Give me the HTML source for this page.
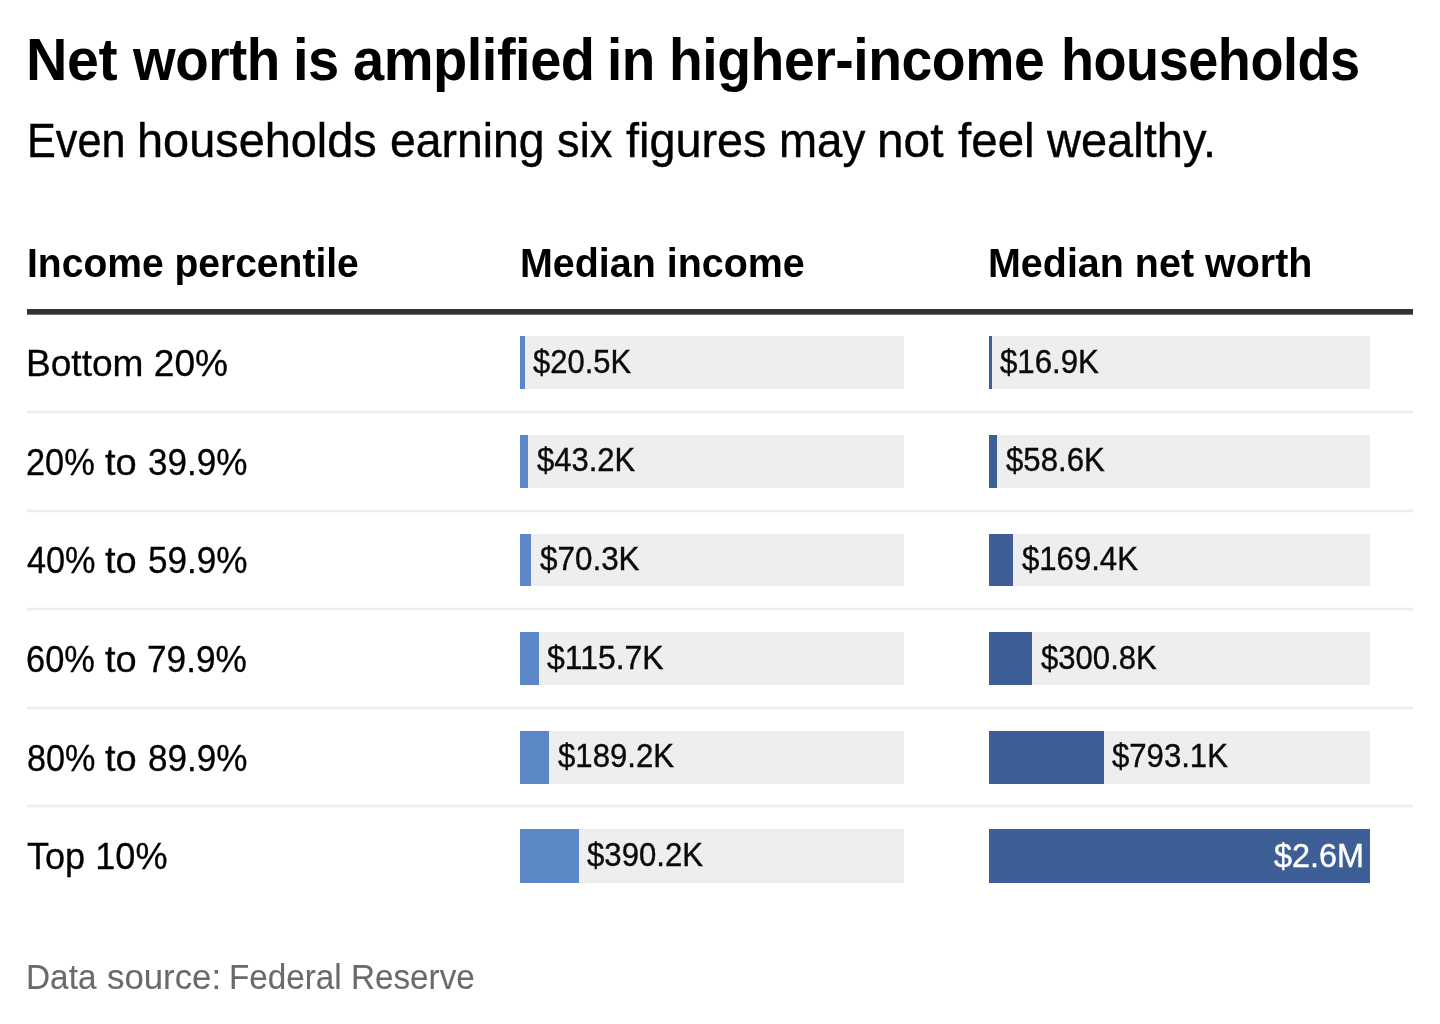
<!DOCTYPE html>
<html lang="en">
<head>
<meta charset="utf-8">
<title>Net worth is amplified in higher-income households</title>
<style>
html,body{margin:0;padding:0;background:#fff;}
body{width:1440px;height:1024px;position:relative;overflow:hidden;font-family:"Liberation Sans",Arial,sans-serif;color:#000;}
.abs{position:absolute;white-space:nowrap;line-height:1;transform-origin:0 0;margin:0;font-weight:400;}
.wrap{margin:0;font-size:16px;font-weight:400;}
.b{font-weight:700;}
.hline{position:absolute;left:27px;width:1386px;top:309px;height:6px;background:linear-gradient(to bottom,#333 0,#333 5px,#747474 5px,#747474 6px);}
.sep{position:absolute;left:27px;width:1386px;height:4px;background:linear-gradient(to bottom,#fafafa 0,#fafafa 1px,#ededed 1px,#ededed 3px,#fafafa 3px,#fafafa 4px);}
.track{position:absolute;background:#eee;}
.bar{position:absolute;}
.c1{background:#5b87c7;}
.c2{background:#3d5f96;}
.val{color:#0a0a0a;-webkit-text-stroke:0.4px #0a0a0a;}
.lbl{-webkit-text-stroke:0.3px #000;}
.sub{-webkit-text-stroke:0.4px #000;}
.val.in{color:#fff;-webkit-text-stroke:0.4px #fff;}
.foot{color:#6a6a6a;-webkit-text-stroke:0.1px #6a6a6a;}
</style>
</head>
<body>
<h1 class="wrap"><span class="abs b" id="t0" style="left:25.96px;top:31.00px;font-size:58.6px;letter-spacing:-0.5px;transform:scaleX(0.9795);">Net</span> <span class="abs b" id="t1" style="left:133.36px;top:31.00px;font-size:58.6px;letter-spacing:-0.5px;transform:scaleX(0.9355);">worth</span> <span class="abs b" id="t2" style="left:292.73px;top:31.00px;font-size:58.6px;letter-spacing:-0.5px;transform:scaleX(0.9576);">is</span> <span class="abs b" id="t3" style="left:353.34px;top:31.00px;font-size:58.6px;letter-spacing:-0.5px;transform:scaleX(0.9558);">amplified</span> <span class="abs b" id="t4" style="left:606.82px;top:31.00px;font-size:58.6px;letter-spacing:-0.5px;transform:scaleX(0.9362);">in</span> <span class="abs b" id="t5" style="left:669.46px;top:31.00px;font-size:58.6px;letter-spacing:-0.5px;transform:scaleX(0.9446);">higher-income</span> <span class="abs b" id="t6" style="left:1061.21px;top:31.00px;font-size:58.6px;letter-spacing:-0.5px;transform:scaleX(0.9224);">households</span></h1>
<p class="wrap"><span class="abs sub" id="s0" style="left:27.02px;top:116.54px;font-size:47.8px;transform:scaleX(0.9032);">Even</span> <span class="abs sub" id="s1" style="left:136.90px;top:116.54px;font-size:47.8px;transform:scaleX(0.9808);">households</span> <span class="abs sub" id="s2" style="left:389.97px;top:116.54px;font-size:47.8px;transform:scaleX(0.9699);">earning</span> <span class="abs sub" id="s3" style="left:557.03px;top:116.54px;font-size:47.8px;transform:scaleX(0.9475);">six</span> <span class="abs sub" id="s4" style="left:626.19px;top:116.54px;font-size:47.8px;transform:scaleX(0.9781);">figures</span> <span class="abs sub" id="s5" style="left:778.81px;top:116.54px;font-size:47.8px;transform:scaleX(0.9564);">may</span> <span class="abs sub" id="s6" style="left:876.72px;top:116.54px;font-size:47.8px;transform:scaleX(0.9993);">not</span> <span class="abs sub" id="s7" style="left:957.94px;top:116.54px;font-size:47.8px;transform:scaleX(0.9944);">feel</span> <span class="abs sub" id="s8" style="left:1046.88px;top:116.54px;font-size:47.8px;transform:scaleX(0.9836);">wealthy.</span></p>

<div class="abs b" id="h1" style="left:26.53px;top:243.89px;font-size:40.3px;transform:scaleX(0.9683);">Income percentile</div>
<div class="abs b" id="h2" style="left:520.35px;top:243.89px;font-size:40.3px;transform:scaleX(0.9782);">Median income</div>
<div class="abs b" id="h3" style="left:988.00px;top:243.89px;font-size:40.3px;transform:scaleX(0.9790);">Median net worth</div>
<div class="hline"></div>

<div class="abs lbl" id="l0" style="left:25.86px;top:344.51px;font-size:37.2px;transform:scaleX(0.9970);">Bottom 20%</div>
<div class="track" style="left:520px;top:336px;width:384px;height:53px"></div><div class="bar c1" style="left:520px;top:336px;width:5px;height:53px"></div>
<div class="abs val" id="a0" style="left:533.41px;top:344.53px;font-size:33.4px;transform:scaleX(0.9269);">$20.5K</div>
<div class="track" style="left:989px;top:336px;width:381px;height:53px"></div><div class="bar c2" style="left:989px;top:336px;width:3px;height:53px"></div>
<div class="abs val" id="b0" style="left:1000.17px;top:344.53px;font-size:33.4px;transform:scaleX(0.9343);">$16.9K</div>
<div class="sep" style="top:410px"></div>

<div class="wrap"><span class="abs lbl" id="l1_0" style="left:26.49px;top:444.21px;font-size:37.2px;transform:scaleX(0.9241);">20%</span> <span class="abs lbl" id="l1_1" style="left:105.14px;top:444.21px;font-size:37.2px;transform:scaleX(1.0221);">to</span> <span class="abs lbl" id="l1_2" style="left:147.91px;top:444.21px;font-size:37.2px;transform:scaleX(0.9426);">39.9%</span></div>
<div class="track" style="left:520px;top:435px;width:384px;height:53px"></div><div class="bar c1" style="left:520px;top:435px;width:8px;height:53px"></div>
<div class="abs val" id="a1" style="left:536.94px;top:443.23px;font-size:33.4px;transform:scaleX(0.9280);">$43.2K</div>
<div class="track" style="left:989px;top:435px;width:381px;height:53px"></div><div class="bar c2" style="left:989px;top:435px;width:8px;height:53px"></div>
<div class="abs val" id="b1" style="left:1005.94px;top:443.23px;font-size:33.4px;transform:scaleX(0.9337);">$58.6K</div>
<div class="sep" style="top:509px"></div>

<div class="wrap"><span class="abs lbl" id="l2_0" style="left:26.63px;top:541.91px;font-size:37.2px;transform:scaleX(0.9211);">40%</span> <span class="abs lbl" id="l2_1" style="left:105.14px;top:541.91px;font-size:37.2px;transform:scaleX(1.0221);">to</span> <span class="abs lbl" id="l2_2" style="left:147.76px;top:541.91px;font-size:37.2px;transform:scaleX(0.9441);">59.9%</span></div>
<div class="track" style="left:520px;top:534px;width:384px;height:52px"></div><div class="bar c1" style="left:520px;top:534px;width:11px;height:52px"></div>
<div class="abs val" id="a2" style="left:539.75px;top:541.93px;font-size:33.4px;transform:scaleX(0.9407);">$70.3K</div>
<div class="track" style="left:989px;top:534px;width:381px;height:52px"></div><div class="bar c2" style="left:989px;top:534px;width:24px;height:52px"></div>
<div class="abs val" id="b2" style="left:1022.17px;top:541.93px;font-size:33.4px;transform:scaleX(0.9317);">$169.4K</div>
<div class="sep" style="top:607px"></div>

<div class="wrap"><span class="abs lbl" id="l3_0" style="left:26.43px;top:640.61px;font-size:37.2px;transform:scaleX(0.9250);">60%</span> <span class="abs lbl" id="l3_1" style="left:105.14px;top:640.61px;font-size:37.2px;transform:scaleX(1.0221);">to</span> <span class="abs lbl" id="l3_2" style="left:147.41px;top:640.61px;font-size:37.2px;transform:scaleX(0.9475);">79.9%</span></div>
<div class="track" style="left:520px;top:632px;width:384px;height:53px"></div><div class="bar c1" style="left:520px;top:632px;width:19px;height:53px"></div>
<div class="abs val" id="a3" style="left:546.55px;top:640.63px;font-size:33.4px;transform:scaleX(0.9560);">$115.7K</div>
<div class="track" style="left:989px;top:632px;width:381px;height:53px"></div><div class="bar c2" style="left:989px;top:632px;width:43px;height:53px"></div>
<div class="abs val" id="b3" style="left:1041.17px;top:640.63px;font-size:33.4px;transform:scaleX(0.9309);">$300.8K</div>
<div class="sep" style="top:706px"></div>

<div class="wrap"><span class="abs lbl" id="l4_0" style="left:26.84px;top:740.31px;font-size:37.2px;transform:scaleX(0.9194);">80%</span> <span class="abs lbl" id="l4_1" style="left:105.14px;top:740.31px;font-size:37.2px;transform:scaleX(1.0221);">to</span> <span class="abs lbl" id="l4_2" style="left:147.80px;top:740.31px;font-size:37.2px;transform:scaleX(0.9437);">89.9%</span></div>
<div class="track" style="left:520px;top:731px;width:384px;height:53px"></div><div class="bar c1" style="left:520px;top:731px;width:29px;height:53px"></div>
<div class="abs val" id="a4" style="left:557.75px;top:739.33px;font-size:33.4px;transform:scaleX(0.9327);">$189.2K</div>
<div class="track" style="left:989px;top:731px;width:381px;height:53px"></div><div class="bar c2" style="left:989px;top:731px;width:115px;height:53px"></div>
<div class="abs val" id="b4" style="left:1112.41px;top:739.33px;font-size:33.4px;transform:scaleX(0.9318);">$793.1K</div>
<div class="sep" style="top:804px"></div>

<div class="abs lbl" id="l5" style="left:27.24px;top:838.01px;font-size:37.2px;transform:scaleX(0.9707);">Top 10%</div>
<div class="track" style="left:520px;top:829px;width:384px;height:54px"></div><div class="bar c1" style="left:520px;top:829px;width:59px;height:54px"></div>
<div class="abs val" id="a5" style="left:586.55px;top:838.03px;font-size:33.4px;transform:scaleX(0.9324);">$390.2K</div>
<div class="track" style="left:989px;top:829px;width:381px;height:54px"></div><div class="bar c2" style="left:989px;top:829px;width:381px;height:54px"></div>
<div class="abs val in" id="b5" style="left:1273.71px;top:839.03px;font-size:33.4px;transform:scaleX(0.9692);">$2.6M</div>

<div class="wrap"><span class="abs foot" id="f0" style="left:26.30px;top:959.71px;font-size:34.6px;transform:scaleX(0.9647);">Data</span> <span class="abs foot" id="f1" style="left:107.09px;top:959.71px;font-size:34.6px;transform:scaleX(1.0066);">source:</span> <span class="abs foot" id="f2" style="left:228.99px;top:959.71px;font-size:34.6px;transform:scaleX(0.9617);">Federal</span> <span class="abs foot" id="f3" style="left:350.57px;top:959.71px;font-size:34.6px;transform:scaleX(0.9615);">Reserve</span></div>
</body>
</html>
